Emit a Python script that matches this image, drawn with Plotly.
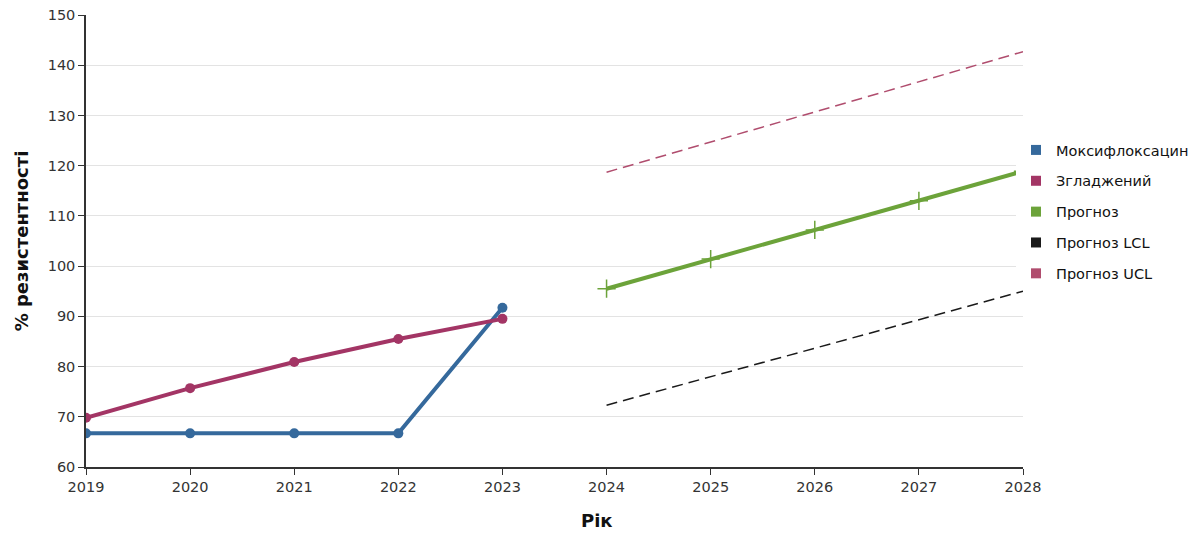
import plotly.graph_objects as go

years_hist = [2019, 2020, 2021, 2022, 2023]
moxi = [66.7, 66.7, 66.7, 66.7, 91.7]
smoothed = [69.8, 75.7, 80.9, 85.5, 89.5]

years_fc = [2024, 2025, 2026, 2027, 2028]
forecast = [95.5, 101.4, 107.2, 113.0, 118.9]
fc_lcl = [72.3, 78.0, 83.7, 89.4, 95.0]
fc_ucl = [118.7, 124.7, 130.7, 136.7, 142.7]

x_ticks = [2019, 2020, 2021, 2022, 2023, 2024, 2025, 2026, 2027, 2028]
y_ticks = [60, 70, 80, 90, 100, 110, 120, 130, 140, 150]

names = ["Моксифлоксацин", "Згладжений", "Прогноз", "Прогноз LCL", "Прогноз UCL"]
colors = ["#35699c", "#a33565", "#6ca33a", "#1a1a1a", "#b04d6e"]

FONT = "DejaVu Sans"

fig = go.Figure()

fig.add_trace(go.Scatter(
    x=years_hist, y=moxi, mode="lines+markers", showlegend=False,
    line=dict(color=colors[0], width=4), marker=dict(size=10, color=colors[0])))
fig.add_trace(go.Scatter(
    x=years_hist, y=smoothed, mode="lines+markers", showlegend=False,
    line=dict(color=colors[1], width=4), marker=dict(size=10, color=colors[1])))
fig.add_trace(go.Scatter(
    x=years_fc, y=fc_lcl, mode="lines", showlegend=False,
    line=dict(color=colors[3], width=1.5, dash="11px,6px")))
fig.add_trace(go.Scatter(
    x=years_fc, y=fc_ucl, mode="lines", showlegend=False,
    line=dict(color=colors[4], width=1.5, dash="11px,6px")))
fig.add_trace(go.Scatter(
    x=years_fc, y=forecast, mode="lines+markers", showlegend=False,
    line=dict(color=colors[2], width=4),
    marker=dict(symbol="cross-thin", size=13, color=colors[2],
                line=dict(color=colors[2], width=1.5))))

# legend entries drawn as square swatches
for i, (n, c) in enumerate(zip(names, colors)):
    fig.add_trace(go.Scatter(
        x=[None], y=[None], mode="markers", name=n, legendgroup=f"g{i}",
        marker=dict(symbol="square", size=10, color=c)))

fig.add_annotation(
    text="<b>Рік</b>", x=(597 - 86) / (1023 - 86), xref="paper",
    y=0, yref="paper", yshift=-56,
    showarrow=False, font=dict(family=FONT, size=18, color="#111"))

fig.update_layout(
    width=1194, height=534,
    margin=dict(l=86, r=171, t=15, b=67, autoexpand=False),
    paper_bgcolor="white", plot_bgcolor="white",
    font=dict(family=FONT, size=14, color="#222"),
    showlegend=True,
    legend=dict(x=1016 / 1194, y=1 - 134 / 534, xref="container", yref="container",
                xanchor="left", yanchor="top",
                font=dict(family=FONT, size=14.5, color="#111"),
                tracegroupgap=9, itemwidth=30),
)
fig.layout.annotations[0].update(yshift=-66)

fig.update_xaxes(
    range=[2019, 2028], tickvals=x_ticks, ticktext=[str(v) for v in x_ticks],
    showgrid=False, zeroline=False,
    showline=True, linecolor="#333", linewidth=1.5,
    ticks="outside", ticklen=6, tickcolor="#333",
    tickfont=dict(family=FONT, size=14.5, color="#333"))
fig.update_yaxes(
    range=[60, 150], tickvals=y_ticks,
    showgrid=True, gridcolor="#e3e3e3", gridwidth=1, zeroline=False,
    showline=True, linecolor="#333", linewidth=1.5,
    ticks="outside", ticklen=6, tickcolor="#333",
    tickfont=dict(family=FONT, size=14.5, color="#333"),
    title=dict(text="<b>% резистентності</b>", standoff=14,
               font=dict(family=FONT, size=18, color="#111")))

fig.write_html("out.html")
